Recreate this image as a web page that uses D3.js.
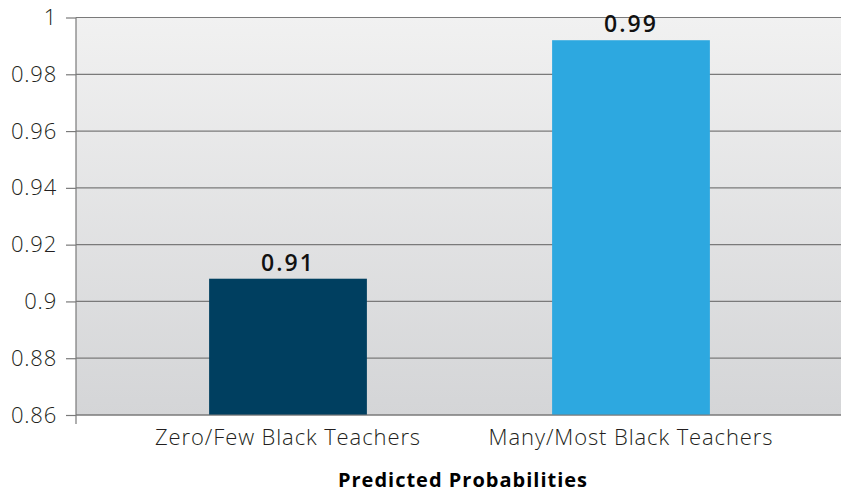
<!DOCTYPE html>
<html>
<head>
<meta charset="utf-8">
<script src="https://cdn.jsdelivr.net/npm/d3@7"></script>
<style>
  html, body { margin: 0; padding: 0; background: #ffffff; }
  svg { display: block; }
  text { font-family: "Open Sans", Lato, sans-serif; }
</style>
</head>
<body>
<svg id="chart" width="841" height="493"></svg>
<script>
// Predicted probabilities by share of Black teachers
const categories = ["Zero/Few Black Teachers", "Many/Most Black Teachers"];
const values = [0.908, 0.992];
const barColors = ["#003f60", "#2da8e0"];
const yTicks = [0.86, 0.88, 0.9, 0.92, 0.94, 0.96, 0.98, 1];
const xTitle = "Predicted Probabilities";

const W = 841, H = 493;
const plot = { left: 76, right: 841, top: 17.5, bottom: 415 };

const svg = d3.select("#chart");

const y = d3.scaleLinear().domain([0.86, 1]).range([plot.bottom, plot.top]);
const x = d3.scaleBand()
  .domain(categories)
  .range([116.5, 802.5])
  .paddingInner(0.54)
  .paddingOuter(0.27);

// plot background gradient
const defs = svg.append("defs");
const grad = defs.append("linearGradient")
  .attr("id", "bg").attr("x1", 0).attr("y1", 0).attr("x2", 0).attr("y2", 1);
grad.append("stop").attr("offset", "0%").attr("stop-color", "#f1f1f1");
grad.append("stop").attr("offset", "100%").attr("stop-color", "#d4d5d7");

svg.append("rect")
  .attr("x", plot.left).attr("y", plot.top)
  .attr("width", plot.right - plot.left)
  .attr("height", plot.bottom - plot.top)
  .attr("fill", "url(#bg)");

// horizontal gridlines
svg.append("g")
  .selectAll("line")
  .data(yTicks)
  .join("line")
  .attr("x1", plot.left).attr("x2", plot.right)
  .attr("y1", d => y(d)).attr("y2", d => y(d))
  .attr("stroke", "#7a7a7a")
  .attr("stroke-width", 1.2);

// bars
svg.append("g")
  .selectAll("rect")
  .data(values)
  .join("rect")
  .attr("x", (d, i) => x(categories[i]))
  .attr("width", x.bandwidth())
  .attr("y", d => y(d))
  .attr("height", d => y(0.86) - y(d))
  .attr("fill", (d, i) => barColors[i]);

// baseline on top of bars
svg.append("line")
  .attr("x1", plot.left).attr("x2", plot.right)
  .attr("y1", y(0.86)).attr("y2", y(0.86))
  .attr("stroke", "#7a7a7a").attr("stroke-width", 1.2);

// y axis
const yAxis = d3.axisLeft(y)
  .tickValues(yTicks)
  .tickFormat(d => d3.format("")(+d.toFixed(2)))
  .tickSize(10)
  .tickSizeOuter(0)
  .tickPadding(9);

const gy = svg.append("g")
  .attr("transform", `translate(${plot.left},0)`)
  .call(yAxis);
gy.select(".domain").remove();
gy.selectAll(".tick line").attr("stroke", "#7a7a7a").attr("stroke-width", 1.2);
gy.selectAll(".tick text")
  .attr("fill", "#231f20")
  .style("font-size", "22px")
  .style("font-weight", 300)
  .style("letter-spacing", "0.8px")
  .style("font-family", "'Open Sans', sans-serif");

// vertical axis line, extended below the baseline
svg.append("line")
  .attr("x1", plot.left).attr("x2", plot.left)
  .attr("y1", plot.top).attr("y2", plot.bottom + 9)
  .attr("stroke", "#7a7a7a").attr("stroke-width", 1.2);

// category labels
svg.append("g")
  .selectAll("text")
  .data(categories)
  .join("text")
  .attr("x", d => x(d) + x.bandwidth() / 2)
  .attr("y", 445)
  .attr("text-anchor", "middle")
  .attr("fill", "#231f20")
  .style("font-size", "22px")
  .style("font-weight", 300)
  .style("letter-spacing", "0.9px")
  .text(d => d);

// value labels
svg.append("g")
  .selectAll("text")
  .data(values)
  .join("text")
  .attr("x", (d, i) => x(categories[i]) + x.bandwidth() / 2)
  .attr("y", d => y(d) - 8)
  .attr("text-anchor", "middle")
  .attr("fill", "#111111")
  .style("font-size", "23px")
  .style("font-weight", 600)
  .style("letter-spacing", "2px")
  .text(d => d3.format(".2f")(d));

// axis title
svg.append("text")
  .attr("x", 463)
  .attr("y", 487)
  .attr("text-anchor", "middle")
  .attr("fill", "#000000")
  .style("font-size", "20px")
  .style("font-weight", 700)
  .style("letter-spacing", "1px")
  .text(xTitle);
</script>
</body>
</html>
